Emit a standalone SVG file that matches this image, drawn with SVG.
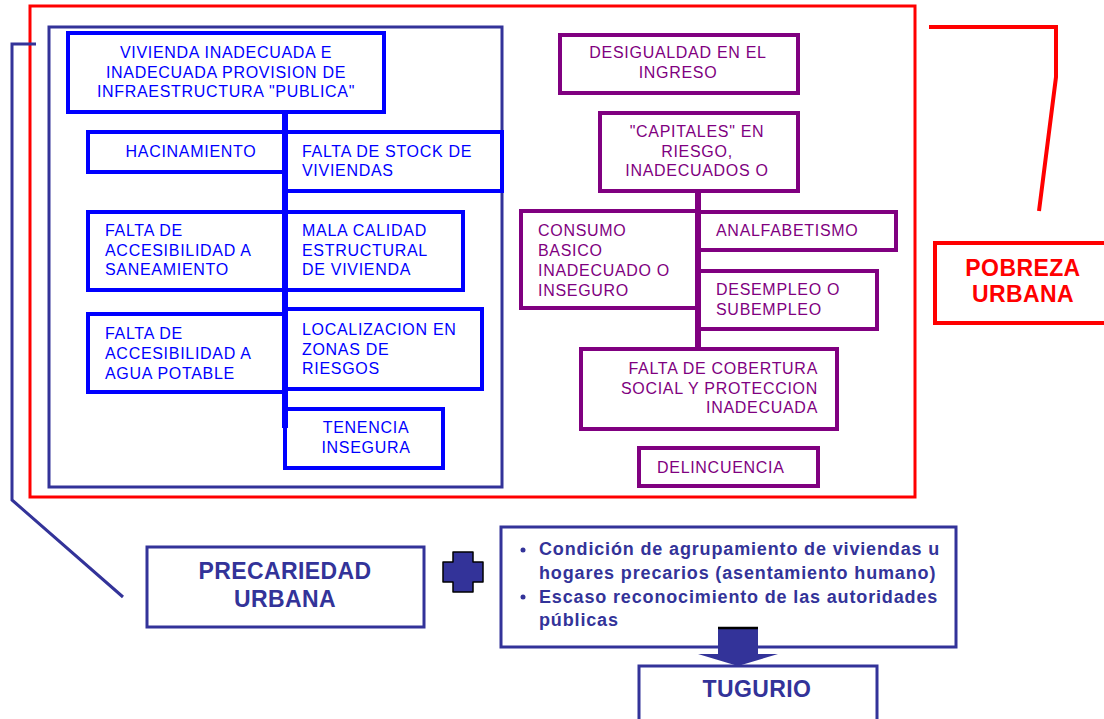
<svg xmlns="http://www.w3.org/2000/svg" width="1104" height="719" viewBox="0 0 1104 719">
<style>
.bb{fill:#fff;stroke:#0000FF;stroke-width:4}
.pb{fill:#fff;stroke:#800080;stroke-width:4}
.nb{fill:#fff;stroke:#333399;stroke-width:3}
.bt{font-family:"Liberation Sans",Arial,sans-serif;font-size:16px;fill:#0000FF;letter-spacing:0.7px}
.pt{font-family:"Liberation Sans",Arial,sans-serif;font-size:16px;fill:#800080;letter-spacing:0.7px}
.big{font-family:"Liberation Sans",Arial,sans-serif;font-size:23px;font-weight:bold;letter-spacing:0.4px}
.bul{font-family:"Liberation Sans",Arial,sans-serif;font-size:18px;font-weight:bold;fill:#333399;letter-spacing:0.85px}
.c{text-anchor:middle}
</style>
<rect width="1104" height="719" fill="#fff"/>
<g id="frames">
<rect x="30" y="6" width="885" height="491" fill="none" stroke="#FF0000" stroke-width="3"/>
<rect x="49" y="27" width="453" height="460" fill="none" stroke="#333399" stroke-width="3"/>
</g>
<g id="connectors" fill="none">
<polyline points="929,27 1056,27 1056,77 1039,211" stroke="#FF0000" stroke-width="4"/>
<polyline points="36,44 12,44 12,500 123,597" stroke="#333399" stroke-width="3"/>
<line x1="285" y1="112" x2="285" y2="428" stroke="#0000FF" stroke-width="6"/>
<line x1="698" y1="192" x2="698" y2="349" stroke="#800080" stroke-width="6"/>
</g>
<g id="n-vivienda"><rect class="bb" x="68" y="33" width="316" height="79"/>
<text class="bt c" x="226" y="58">VIVIENDA INADECUADA E</text>
<text class="bt c" x="226" y="78">INADECUADA PROVISION DE</text>
<text class="bt c" x="226" y="97">INFRAESTRUCTURA "PUBLICA"</text></g>
<g id="n-hacinamiento"><rect class="bb" x="88" y="132" width="197" height="40"/>
<text class="bt c" x="191" y="157">HACINAMIENTO</text></g>
<g id="n-stock"><rect class="bb" x="285" y="132" width="217" height="59"/>
<text class="bt" x="302" y="157">FALTA DE STOCK DE</text>
<text class="bt" x="302" y="176">VIVIENDAS</text></g>
<g id="n-saneamiento"><rect class="bb" x="88" y="212" width="197" height="78"/>
<text class="bt" x="105" y="236">FALTA DE</text>
<text class="bt" x="105" y="256">ACCESIBILIDAD A</text>
<text class="bt" x="105" y="275">SANEAMIENTO</text></g>
<g id="n-calidad"><rect class="bb" x="285" y="212" width="178" height="78"/>
<text class="bt" x="302" y="236">MALA CALIDAD</text>
<text class="bt" x="302" y="256">ESTRUCTURAL</text>
<text class="bt" x="302" y="275">DE VIVIENDA</text></g>
<g id="n-agua"><rect class="bb" x="88" y="314" width="197" height="78"/>
<text class="bt" x="105" y="339">FALTA DE</text>
<text class="bt" x="105" y="359">ACCESIBILIDAD A</text>
<text class="bt" x="105" y="379">AGUA POTABLE</text></g>
<g id="n-localizacion"><rect class="bb" x="285" y="309" width="197" height="80"/>
<text class="bt" x="302" y="335">LOCALIZACION EN</text>
<text class="bt" x="302" y="355">ZONAS DE</text>
<text class="bt" x="302" y="374">RIESGOS</text></g>
<g id="n-tenencia"><rect class="bb" x="285" y="409" width="158" height="59"/>
<text class="bt c" x="366" y="433">TENENCIA</text>
<text class="bt c" x="366" y="453">INSEGURA</text></g>
<line x1="285" y1="112" x2="285" y2="428" stroke="#0000FF" stroke-width="6"/>

<g id="n-desigualdad"><rect class="pb" x="560" y="35" width="238" height="58"/>
<text class="pt c" x="678" y="58">DESIGUALDAD EN EL</text>
<text class="pt c" x="678" y="78">INGRESO</text></g>
<g id="n-capitales"><rect class="pb" x="600" y="113" width="198" height="78"/>
<text class="pt c" x="697" y="137">"CAPITALES" EN</text>
<text class="pt c" x="697" y="157">RIESGO,</text>
<text class="pt c" x="697" y="176">INADECUADOS O</text></g>
<g id="n-consumo"><rect class="pb" x="521" y="211" width="177" height="97"/>
<text class="pt" x="538" y="236">CONSUMO</text>
<text class="pt" x="538" y="256">BASICO</text>
<text class="pt" x="538" y="276">INADECUADO O</text>
<text class="pt" x="538" y="296">INSEGURO</text></g>
<g id="n-analfabetismo"><rect class="pb" x="698" y="212" width="198" height="38"/>
<text class="pt" x="716" y="236">ANALFABETISMO</text></g>
<g id="n-desempleo"><rect class="pb" x="698" y="271" width="179" height="58"/>
<text class="pt" x="716" y="295">DESEMPLEO O</text>
<text class="pt" x="716" y="315">SUBEMPLEO</text></g>
<g id="n-cobertura"><rect class="pb" x="581" y="349" width="256" height="80"/>
<text class="pt" x="818" y="374" text-anchor="end">FALTA DE COBERTURA</text>
<text class="pt" x="818" y="394" text-anchor="end">SOCIAL Y PROTECCION</text>
<text class="pt" x="818" y="413" text-anchor="end">INADECUADA</text></g>
<g id="n-delincuencia"><rect class="pb" x="639" y="448" width="179" height="38"/>
<text class="pt" x="657" y="473">DELINCUENCIA</text></g>
<line x1="698" y1="192" x2="698" y2="349" stroke="#800080" stroke-width="6"/>

<g id="n-pobreza"><rect x="935" y="243" width="180" height="80" fill="#fff" stroke="#FF0000" stroke-width="4"/>
<text class="big c" x="1023" y="276" fill="#FF0000">POBREZA</text>
<text class="big c" x="1023" y="302" fill="#FF0000">URBANA</text></g>

<g id="n-precariedad"><rect class="nb" x="147" y="547" width="277" height="80"/>
<text class="big c" x="285" y="579" fill="#333399">PRECARIEDAD</text>
<text class="big c" x="285" y="607" fill="#333399">URBANA</text></g>
<g id="plus"><path d="M453,552 H473 V562 H483 V582 H473 V592 H453 V582 H443 V562 H453 Z" fill="#333399" stroke="#000" stroke-width="1.5" stroke-linejoin="round"/></g>
<g id="n-condicion"><rect class="nb" x="501" y="527" width="455" height="120"/>
<circle cx="523" cy="550" r="2.5" fill="#333399"/>
<circle cx="523" cy="597" r="2.5" fill="#333399"/>
<text class="bul" x="539" y="555">Condición de agrupamiento de viviendas u</text>
<text class="bul" x="539" y="579">hogares precarios (asentamiento humano)</text>
<text class="bul" x="539" y="603">Escaso reconocimiento de las autoridades</text>
<text class="bul" x="539" y="626">públicas</text></g>
<g id="n-tugurio"><rect class="nb" x="639" y="666" width="238" height="70"/>
<text class="big c" x="757" y="697" fill="#333399">TUGURIO</text></g>
<g id="arrow"><polygon points="718,627 758,627 758,654 778,654 738,666 698,654 718,654" fill="#333399"/>
<line x1="718" y1="628" x2="758" y2="628" stroke="#000" stroke-width="2.5"/></g>
</svg>
